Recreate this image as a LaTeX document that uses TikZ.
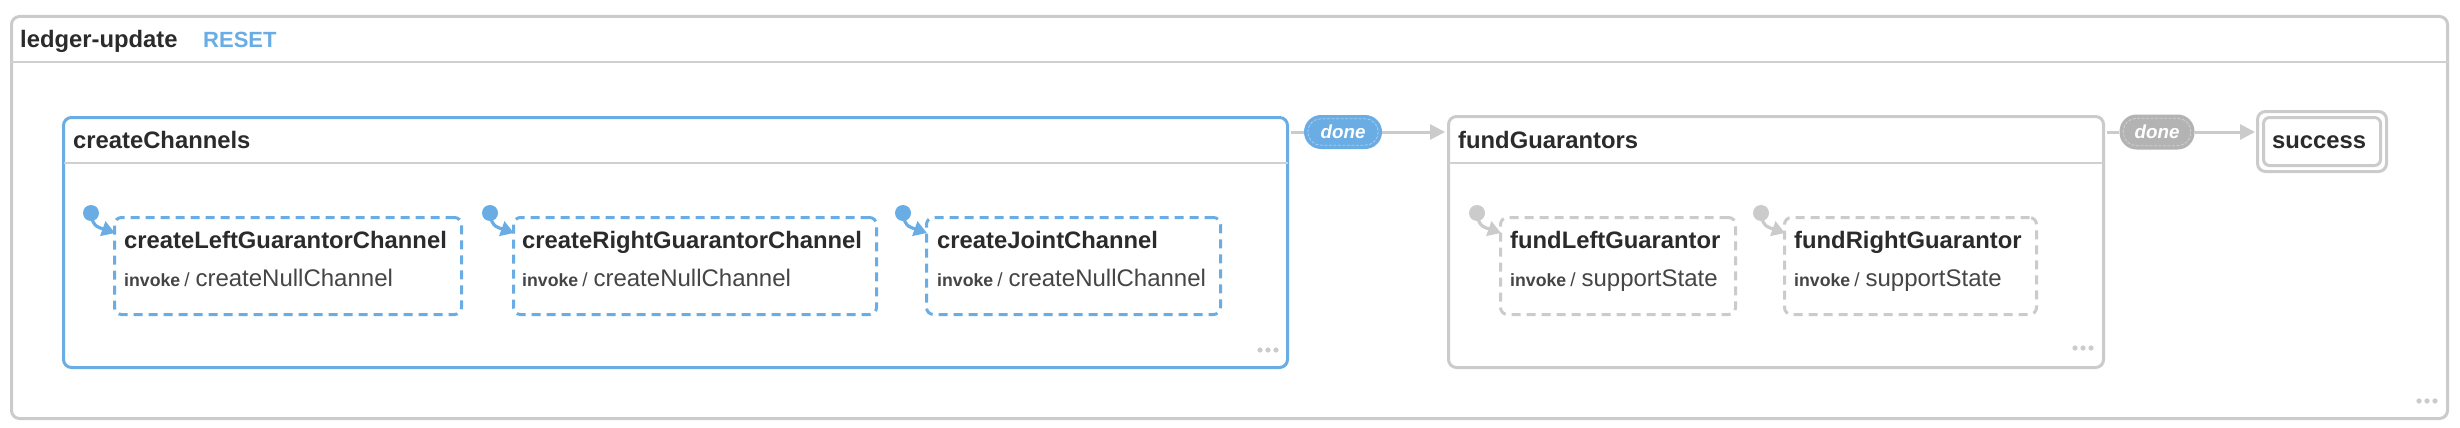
\documentclass[tikz,border=0pt]{standalone}
\usepackage{fontspec}
\setmainfont{Liberation Sans}
\usetikzlibrary{arrows.meta,calc}
\definecolor{sblue}{HTML}{6AADE4}
\definecolor{sgray}{HTML}{CBCBCB}
\definecolor{lgray}{HTML}{D0D0D0}
\definecolor{pgray}{HTML}{B3B3B3}
\definecolor{tdark}{HTML}{2B2B2B}
\definecolor{tmid}{HTML}{454545}
\newcommand\ttlfont{\fontsize{23.8}{28}\selectfont\bfseries}
\newcommand\invfont{\fontsize{17.7}{20}\selectfont\bfseries}
\newcommand\actfont{\fontsize{24}{28}\selectfont}
\newcommand\slfont{\fontsize{19}{22}\selectfont}
\newcommand\donefont{\fontsize{18.8}{22}\selectfont\bfseries\itshape}
\newcommand\rstfont{\fontsize{22}{26}\selectfont\bfseries}
\begin{document}
\begin{tikzpicture}[x=1pt,y=-1pt,
  frame/.style={draw=#1, line width=3pt, rounded corners=8pt, fill=white, anchor=north west, inner sep=0pt},
  child/.style={draw=#1, line width=3pt, rounded corners=7pt, fill=white, anchor=north west, inner sep=0pt, dash pattern=on 9pt off 6pt},
  sep/.style={draw=lgray, line width=2.2pt},
  ttl/.style={anchor=base west, inner sep=0pt, text=tdark, font=\ttlfont},
  inv/.style={anchor=base west, inner sep=0pt, text=tmid},
  idot/.style={circle, fill=#1, inner sep=0pt, minimum size=16pt},
  iarr/.style={draw=#1, line width=3.2pt, -{Triangle[length=13pt,width=15pt]}},
  conn/.style={draw=sgray, line width=3pt},
  pill/.style={fill=#1, rounded corners=17pt, inner sep=0pt, text=white, font=\donefont},
  tip/.style={-{Triangle[length=15pt,width=15pt]}}
]
\useasboundingbox (0,0) rectangle (2460,428);

% outer machine
\node[frame=sgray, minimum width=2436pt, minimum height=402pt] (outer) at (10,15) {};
\draw[sep] ($(outer.north west)+(0,47)$) -- ($(outer.north east)+(0,47)$);
\node[anchor=base west, inner sep=0pt, text=tdark, font=\ttlfont] (otitle) at (20,48) {ledger-update};
\node[anchor=base west, inner sep=0pt, text=sblue, font=\rstfont] (reset) at (203,48) {RESET};

% createChannels
\node[frame=sblue, minimum width=1224pt, minimum height=250pt] (cc) at (62,116) {};
\draw[sep] ($(cc.north west)+(1.5,47)$) -- ($(cc.north east)+(-1.5,47)$);
\node[ttl] (cct) at (73,148) {createChannels};

% fundGuarantors
\node[frame=sgray, minimum width=655pt, minimum height=251pt] (fg) at (1447,115) {};
\draw[sep] ($(fg.north west)+(1.5,48)$) -- ($(fg.north east)+(-1.5,48)$);
\node[ttl] (fgt) at (1458,148) {fundGuarantors};

% success
\node[frame=sgray, minimum width=129pt, minimum height=60pt] (suc) at (2256,110) {};
\node[frame=sgray, minimum width=117pt, minimum height=48pt, rounded corners=6pt] (suci) at (2262,116) {};
\node[anchor=base, inner sep=0pt, text=tdark, font=\ttlfont] (suct) at (2319,148) {success};

% children
\node[child=sblue, minimum width=347pt, minimum height=97pt] (b1) at (113,216) {};
\node[child=sblue, minimum width=363pt, minimum height=97pt] (b2) at (512,216) {};
\node[child=sblue, minimum width=294pt, minimum height=97pt] (b3) at (925,216) {};
\node[child=sgray, minimum width=235pt, minimum height=97pt] (b4) at (1499,216) {};
\node[child=sgray, minimum width=252pt, minimum height=97pt] (b5) at (1783,216) {};

\node[ttl] (t1) at ($(b1.north west)+(11,32)$) {createLeftGuarantorChannel};
\node[ttl] (t2) at ($(b2.north west)+(10,32)$) {createRightGuarantorChannel};
\node[ttl] (t3) at ($(b3.north west)+(12,32)$) {createJointChannel};
\node[ttl] (t4) at ($(b4.north west)+(11,32)$) {fundLeftGuarantor};
\node[ttl] (t5) at ($(b5.north west)+(11,32)$) {fundRightGuarantor};

\node[inv] (i1) at ($(b1.north west)+(11,70)$) {{\invfont invoke}\hspace{4pt}{\slfont /}\hspace{6pt}{\actfont createNullChannel}};
\node[inv] (i2) at ($(b2.north west)+(10,70)$) {{\invfont invoke}\hspace{4pt}{\slfont /}\hspace{6pt}{\actfont createNullChannel}};
\node[inv] (i3) at ($(b3.north west)+(12,70)$) {{\invfont invoke}\hspace{4pt}{\slfont /}\hspace{6pt}{\actfont createNullChannel}};
\node[inv] (i4) at ($(b4.north west)+(11,70)$) {{\invfont invoke}\hspace{4pt}{\slfont /}\hspace{6pt}{\actfont supportState}};
\node[inv] (i5) at ($(b5.north west)+(11,70)$) {{\invfont invoke}\hspace{4pt}{\slfont /}\hspace{6pt}{\actfont supportState}};

% initial markers
\foreach \b/\c in {b1/sblue,b2/sblue,b3/sblue,b4/sgray,b5/sgray}{
  \node[idot=\c] (d\b) at ($(\b.north west)+(-22,-3)$) {};
  \coordinate (e\b) at ($(\b.north west)+(2,17)$);
  \draw[iarr=\c] (d\b.center) .. controls +(1,15) and +(-14,-5) .. (e\b);
}

% transitions
\node[pill=sblue, minimum width=78pt, minimum height=34pt] (done1) at (1343,132) {done};
\node[pill=pgray, minimum width=75pt, minimum height=35pt] (done2) at (2157,132) {done};
\draw[white, opacity=0.4, line width=0.8pt, rounded corners=13pt, dash pattern=on 3pt off 1.5pt] ($(done1.south west)+(4,-4)$) rectangle ($(done1.north east)+(-4,4)$);
\draw[white, opacity=0.4, line width=0.8pt, rounded corners=13pt, dash pattern=on 3pt off 1.5pt] ($(done2.south west)+(4,-4)$) rectangle ($(done2.north east)+(-4,4)$);
\coordinate (c1) at ($(cc.north east)+(1.5,16)$);
\coordinate (c2) at ($(fg.north east)+(1.5,17)$);
\draw[conn] (c1) -- (done1.west);
\draw[conn,tip] (done1.east) -- ($(fg.north west |- done1.east)+(-2,0)$);
\draw[conn] (c2) -- (done2.west);
\draw[conn,tip] (done2.east) -- ($(suc.north west |- done2.east)+(-1,0)$);

% ellipsis marks
\foreach \x/\y in {1260/350, 2075/348, 2419/401}{
  \foreach \i in {0,1,2}{ \fill[sgray] (\x+8*\i,\y) circle (2.6); }
}
\end{tikzpicture}
\end{document}
